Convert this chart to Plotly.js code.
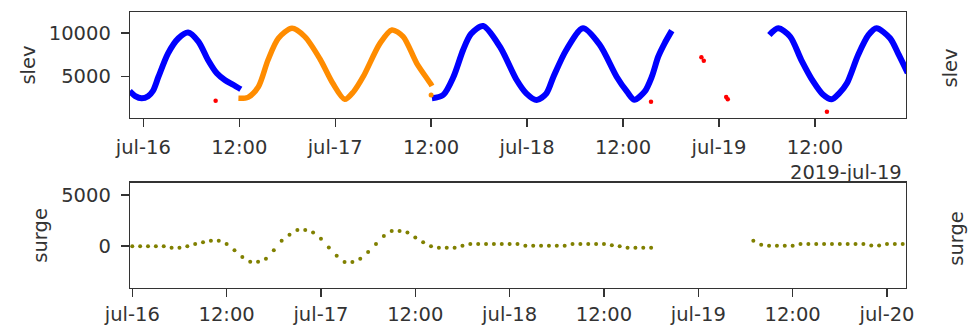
<!DOCTYPE html>
<html>
<head>
<meta charset="utf-8">
<script src="https://cdn.plot.ly/plotly-3.0.1.min.js"></script>
<style>html,body{margin:0;padding:0;background:#fff;}#chart{width:970px;height:327px;}</style>
</head>
<body>
<div id="chart"></div>
<script>
// Times are hours since 2019-07-16 00:00
var blueHours = [-1.7,-1.0,-0.2,0.6,1.2,1.9,3.1,4.4,5.6,6.9,8.1,9.2,10.2,11.3,12.2,
  null,
  36.1,37.5,38.8,40.0,41.0,42.5,44.6,46.7,47.9,49.2,50.4,51.3,52.9,55.0,57.1,59.2,60.5,61.4,62.7,63.6,64.4,65.2,66.1,
  null,
  78.3,79.4,80.9,82.3,83.8,85.0,86.1,87.0,88.0,89.4,90.7,91.7,93.4,94.4,95.6];
var blueSlev = [3300,2720,2460,2700,3300,4950,7650,9390,10050,9000,6880,5340,4570,4000,3500,
  null,
  2460,2840,4950,8040,9900,10800,8420,4570,3030,2260,3000,4950,8040,10540,8610,4950,3220,2300,3220,4950,7270,8810,10270,
  null,
  9770,10540,9580,6880,4380,2900,2340,3000,4190,7460,9770,10540,9390,7650,5400];

var orangeHours = [11.9,13.1,14.4,15.6,16.9,18.6,20.2,22.1,23.7,25.2,26.3,27.5,29.6,31.1,32.5,34.2,35.9,36.1];
var orangeSlev  = [2460,2570,3800,6880,9390,10540,9580,7000,4190,2340,3220,4950,8800,10350,9580,6500,4190,3880];
var orangeDotHours = [36.0];
var orangeDotSlev  = [2850];

var redHours = [9.05,63.5,69.8,70.1,72.9,73.1,85.5];
var redSlev  = [2180,2070,7200,6800,2600,2350,910];

// hourly surge from 2019-07-16 00:00 (null = missing)
var surge = [0,0,0,0,0,-160,-160,0,200,390,
  520,520,200,-390,-1050,-1530,-1530,-1240,-390,520,
  1110,1570,1570,1340,720,-130,-950,-1540,-1540,-1240,
  -560,200,980,1470,1470,1340,850,390,0,-160,
  -160,-160,30,200,200,200,200,200,200,200,
  50,50,50,50,50,50,200,200,200,200,
  200,100,0,-150,-150,-150,-150,null,null,null,
  null,null,null,null,null,null,null,null,null,520,
  130,30,30,30,30,200,200,200,200,200,
  200,200,200,200,60,60,200,200,200];

var topTickHours = [0,12,24,36,48,60,72,84];
var topTickText = ['jul-16','12:00','jul-17','12:00','jul-18','12:00','jul-19','12:00'];
var botTickHours = [0,12,24,36,48,60,72,84,96];
var botTickText = ['jul-16','12:00','jul-17','12:00','jul-18','12:00','jul-19','12:00','jul-20'];
var offsetText = '2019-jul-19';

function pad(n){return (n<10?'0':'')+n;}
function d(h){
  if(h===null) return null;
  var t = new Date(Date.UTC(2019,6,16) + h*3600000);
  return t.getUTCFullYear()+'-'+pad(t.getUTCMonth()+1)+'-'+pad(t.getUTCDate())+' '+
    pad(t.getUTCHours())+':'+pad(t.getUTCMinutes())+':'+pad(t.getUTCSeconds());
}
var surgeX = surge.map(function(v,i){return d(i);});

var font = {family:'DejaVu Sans', size:19.5, color:'#333'};
var axCommon = {showline:true, mirror:true, linecolor:'#333', linewidth:1.3,
  ticks:'outside', ticklen:8, tickwidth:1.3, tickcolor:'#333',
  showgrid:false, zeroline:false, tickfont:font};

var traces = [
  {x:blueHours.map(d), y:blueSlev, mode:'lines', connectgaps:false,
   line:{color:'#0000ff', width:6, shape:'spline', smoothing:0.8}, xaxis:'x', yaxis:'y'},
  {x:orangeHours.map(d), y:orangeSlev, mode:'lines',
   line:{color:'#ff8c00', width:5.5, shape:'spline', smoothing:0.8}, xaxis:'x', yaxis:'y'},
  {x:orangeDotHours.map(d), y:orangeDotSlev, mode:'markers',
   marker:{color:'#ff8c00', size:5}, xaxis:'x', yaxis:'y'},
  {x:redHours.map(d), y:redSlev, mode:'markers',
   marker:{color:'#ff0000', size:4.5}, xaxis:'x', yaxis:'y'},
  {x:surgeX, y:surge, mode:'markers',
   marker:{color:'#808000', size:4}, xaxis:'x2', yaxis:'y2'}
];

var layout = {
  width:970, height:327,
  margin:{l:130, r:64, t:12, b:39, pad:0},
  paper_bgcolor:'#fff', plot_bgcolor:'#fff',
  showlegend:false, font:font,
  xaxis:Object.assign({}, axCommon, {domain:[0,1], anchor:'y', type:'date', ticklabelstandoff:3,
    range:[d(-1.66), d(95.39)], tickmode:'array', tickvals:topTickHours.map(d), ticktext:topTickText}),
  yaxis:Object.assign({}, axCommon, {domain:[0.616,1], anchor:'x', ticklabelstandoff:6,
    range:[190,12420], tickmode:'array', tickvals:[5000,10000], ticktext:['5000','10000'],
    title:{text:'slev', font:font, standoff:8}}),
  xaxis2:Object.assign({}, axCommon, {domain:[0,1], anchor:'y2', type:'date', ticklabelstandoff:0,
    range:[d(-0.29), d(98.42)], tickmode:'array', tickvals:botTickHours.map(d), ticktext:botTickText}),
  yaxis2:Object.assign({}, axCommon, {domain:[0,0.3815], anchor:'x2', ticklabelstandoff:6,
    range:[-4090,6200], tickmode:'array', tickvals:[0,5000], ticktext:['0','5000'],
    title:{text:'surge', font:font, standoff:8}}),
  annotations:[
    {text:offsetText, xref:'paper', yref:'paper', x:0.9974, y:0.4167,
     xanchor:'right', yanchor:'middle', showarrow:false, font:font},
    {text:'slev', xref:'paper', yref:'paper', x:1.0567, y:0.799, textangle:-90,
     xanchor:'center', yanchor:'middle', showarrow:false, font:font},
    {text:'surge', xref:'paper', yref:'paper', x:1.064, y:0.181, textangle:-90,
     xanchor:'center', yanchor:'middle', showarrow:false, font:font}
  ]
};

Plotly.newPlot('chart', traces, layout, {staticPlot:true, displayModeBar:false});
</script>
</body>
</html>
